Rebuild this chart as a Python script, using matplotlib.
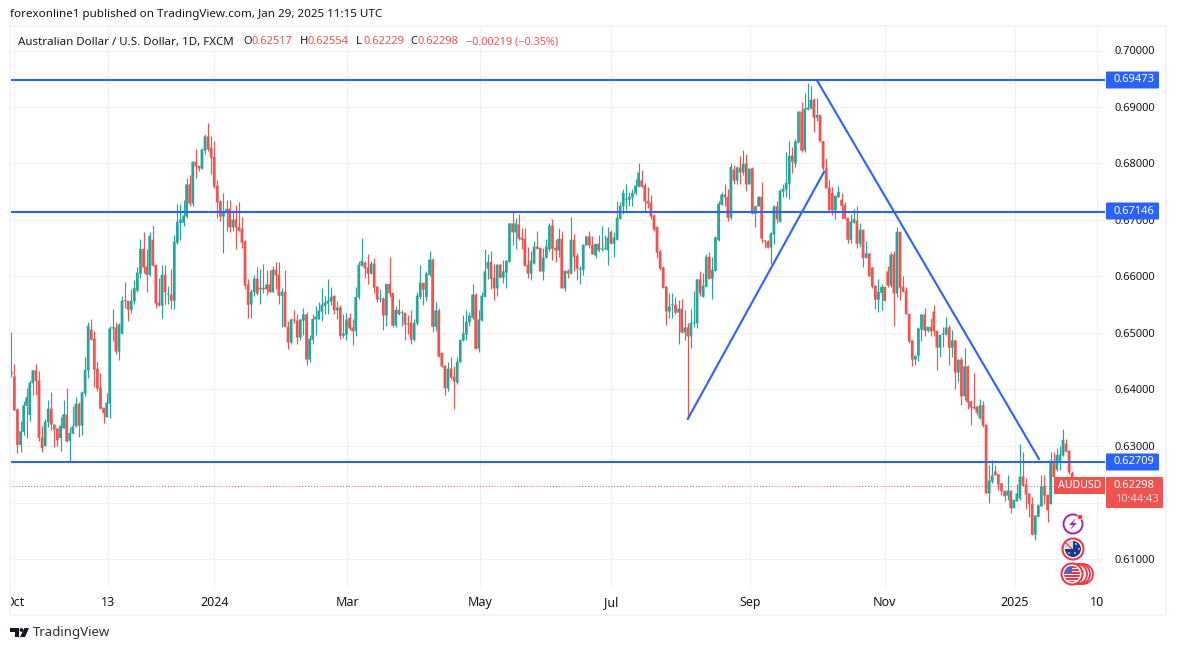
import numpy as np
import matplotlib
matplotlib.use("Agg")
import matplotlib.pyplot as plt
from matplotlib.patches import Circle, Rectangle, Polygon, FancyBboxPatch, Wedge
from matplotlib.transforms import Bbox

plt.rcParams['font.family'] = ['Noto Sans', 'DejaVu Sans']

# AUDUSD daily candles, in 1/10000 of a dollar
opens = [
    6427,6423,6365,6302,6325,6371,6355,6411,6434,6416,6315,6300,6342,6366,6338,6331,6314,6331,6356,6309,
    6322,6335,6375,6336,6393,6434,6506,6490,6437,6404,6368,6351,6375,6508,6510,6467,6499,6557,6557,6541,
    6556,6575,6605,6649,6618,6603,6665,6621,6554,6549,6603,6568,6568,6557,6660,6695,6695,6706,6763,6729,
    6803,6796,6791,6823,6848,6828,6812,6761,6733,6706,6715,6720,6687,6701,6688,6685,6662,6586,6550,6572,
    6596,6577,6580,6577,6586,6572,6612,6603,6566,6573,6511,6483,6524,6522,6492,6522,6533,6453,6488,6524,
    6524,6538,6548,6552,6556,6566,6540,6545,6495,6497,6527,6510,6503,6563,6619,6625,6616,6605,6623,6582,
    6560,6561,6531,6587,6571,6513,6541,6535,6536,6517,6518,6488,6517,6564,6589,6564,6603,6630,6511,6540,
    6465,6442,6402,6437,6423,6412,6448,6487,6497,6519,6527,6568,6472,6522,6564,6614,6626,6598,6579,6621,
    6598,6607,6626,6694,6678,6692,6669,6667,6621,6605,6623,6653,6651,6609,6633,6648,6690,6651,6646,6667,
    6579,6610,6605,6665,6637,6612,6612,6655,6671,6656,6637,6658,6648,6648,6646,6679,6658,6665,6702,6724,
    6736,6736,6740,6747,6759,6770,6761,6734,6731,6708,6688,6644,6616,6582,6538,6549,6550,6536,6543,6501,
    6510,6494,6517,6517,6595,6564,6582,6635,6596,6610,6664,6727,6745,6741,6704,6789,6770,6793,6784,6800,
    6763,6791,6711,6724,6741,6664,6662,6651,6674,6724,6697,6750,6754,6764,6814,6800,6837,6892,6823,6895,
    6897,6913,6881,6886,6840,6791,6757,6748,6717,6740,6736,6727,6704,6665,6695,6699,6658,6683,6633,6641,
    6616,6584,6559,6571,6582,6609,6584,6639,6570,6679,6582,6575,6534,6487,6453,6460,6506,6533,6504,6511,
    6538,6504,6474,6497,6497,6510,6474,6487,6430,6453,6388,6441,6379,6369,6370,6349,6372,6338,6216,6237,
    6255,6250,6234,6221,6212,6221,6190,6202,6207,6246,6232,6216,6197,6143,6175,6193,6228,6214,6197,6274,
    6258,6270,6283,6304,6292,6252]
highs = [
    6502,6446,6368,6344,6379,6402,6416,6434,6446,6432,6336,6347,6381,6395,6338,6331,6351,6381,6402,6333,
    6370,6386,6377,6398,6457,6520,6524,6503,6451,6430,6368,6393,6513,6543,6519,6517,6566,6591,6557,6577,
    6593,6616,6667,6678,6649,6678,6692,6621,6598,6621,6621,6584,6614,6674,6729,6729,6736,6775,6780,6805,
    6826,6796,6828,6853,6872,6848,6840,6771,6736,6748,6736,6736,6718,6727,6731,6706,6664,6596,6577,6603,
    6616,6614,6623,6611,6611,6618,6626,6625,6580,6612,6522,6526,6541,6533,6524,6545,6538,6497,6533,6547,
    6554,6580,6566,6596,6582,6568,6556,6550,6533,6536,6536,6524,6582,6628,6669,6628,6640,6628,6633,6584,
    6577,6564,6587,6635,6571,6548,6561,6541,6536,6531,6540,6525,6572,6621,6589,6610,6646,6632,6554,6545,
    6465,6444,6448,6458,6441,6457,6488,6531,6540,6538,6587,6570,6541,6573,6649,6639,6646,6623,6623,6623,
    6630,6630,6695,6715,6704,6711,6686,6686,6653,6646,6662,6681,6651,6651,6667,6695,6701,6667,6685,6681,
    6612,6614,6706,6676,6642,6619,6658,6671,6681,6672,6658,6674,6690,6674,6687,6683,6678,6734,6732,6755,
    6763,6750,6754,6773,6800,6789,6766,6759,6745,6710,6688,6648,6618,6584,6570,6570,6564,6559,6561,6541,
    6518,6543,6575,6595,6609,6607,6639,6644,6635,6672,6734,6750,6763,6754,6800,6798,6796,6814,6824,6817,
    6791,6793,6725,6743,6768,6664,6664,6678,6727,6733,6755,6764,6821,6840,6830,6844,6893,6909,6925,6943,
    6938,6916,6916,6886,6840,6810,6770,6759,6743,6761,6748,6731,6704,6711,6720,6724,6694,6683,6662,6641,
    6616,6584,6596,6587,6582,6619,6644,6646,6688,6681,6600,6582,6534,6487,6460,6511,6534,6545,6511,6527,
    6550,6504,6497,6510,6529,6515,6506,6487,6453,6457,6473,6444,6379,6430,6370,6384,6379,6338,6267,6276,
    6266,6250,6234,6221,6248,6221,6205,6232,6303,6289,6243,6216,6209,6177,6197,6248,6248,6214,6289,6290,
    6297,6300,6330,6312,6292,6255]
lows = [
    6422,6363,6287,6289,6320,6314,6344,6391,6390,6309,6289,6300,6333,6329,6298,6300,6291,6331,6307,6272,
    6322,6333,6316,6320,6388,6421,6487,6405,6398,6365,6340,6351,6349,6485,6462,6453,6499,6545,6522,6536,
    6552,6572,6598,6607,6572,6600,6619,6545,6547,6527,6552,6552,6542,6543,6657,6664,6690,6703,6725,6724,
    6775,6787,6791,6817,6823,6782,6757,6703,6698,6642,6680,6678,6680,6648,6680,6651,6577,6526,6527,6566,
    6568,6552,6570,6568,6572,6572,6577,6552,6510,6511,6471,6480,6517,6481,6488,6497,6444,6448,6480,6497,
    6524,6522,6534,6534,6550,6533,6525,6490,6492,6488,6506,6478,6494,6561,6619,6598,6586,6605,6571,6554,
    6554,6506,6513,6563,6511,6511,6531,6513,6487,6499,6481,6485,6515,6561,6550,6557,6600,6501,6503,6458,
    6439,6391,6398,6418,6365,6409,6448,6485,6487,6513,6525,6472,6467,6522,6563,6596,6577,6559,6566,6598,
    6589,6580,6625,6655,6649,6665,6648,6619,6598,6593,6623,6648,6609,6593,6632,6646,6630,6626,6635,6579,
    6575,6598,6605,6610,6593,6586,6602,6655,6651,6639,6633,6644,6646,6648,6621,6658,6635,6664,6702,6710,
    6718,6725,6724,6745,6759,6759,6715,6722,6701,6681,6633,6612,6579,6515,6526,6526,6533,6481,6500,6487,
    6349,6474,6510,6508,6566,6564,6582,6596,6561,6610,6662,6727,6725,6699,6701,6763,6764,6764,6780,6752,
    6763,6710,6687,6724,6660,6651,6651,6623,6658,6694,6697,6741,6741,6738,6784,6794,6837,6821,6821,6895,
    6897,6856,6876,6839,6789,6756,6717,6708,6701,6740,6702,6701,6660,6660,6695,6651,6653,6616,6633,6600,
    6580,6543,6538,6540,6556,6582,6582,6513,6564,6559,6573,6533,6483,6442,6444,6450,6485,6495,6501,6495,
    6494,6435,6458,6476,6497,6444,6457,6400,6414,6373,6381,6365,6338,6365,6354,6347,6333,6216,6200,6235,
    6248,6223,6214,6202,6204,6181,6190,6202,6205,6230,6188,6174,6143,6133,6175,6193,6197,6165,6197,6230,
    6255,6258,6282,6290,6250,6223]
closes = [
    6432,6363,6302,6326,6372,6386,6412,6434,6415,6314,6296,6343,6366,6338,6329,6310,6336,6356,6308,6323,
    6335,6375,6336,6395,6435,6513,6488,6435,6402,6366,6358,6377,6508,6510,6467,6515,6557,6556,6541,6557,
    6580,6607,6649,6616,6603,6672,6619,6552,6549,6603,6572,6569,6557,6662,6697,6701,6708,6763,6729,6803,
    6795,6791,6825,6848,6825,6810,6759,6731,6706,6713,6720,6687,6701,6687,6681,6660,6584,6550,6573,6596,
    6570,6580,6577,6586,6572,6612,6602,6566,6573,6511,6483,6524,6522,6492,6524,6533,6453,6490,6525,6529,
    6540,6550,6554,6557,6564,6540,6545,6495,6499,6524,6508,6503,6564,6621,6628,6614,6605,6623,6580,6559,
    6561,6531,6587,6570,6513,6541,6533,6536,6515,6515,6488,6518,6566,6589,6577,6605,6630,6511,6540,6458,
    6441,6402,6437,6421,6414,6449,6488,6499,6520,6531,6568,6472,6524,6566,6609,6626,6596,6579,6621,6598,
    6609,6628,6694,6678,6694,6667,6665,6619,6605,6628,6653,6649,6609,6633,6653,6690,6649,6646,6667,6579,
    6610,6605,6665,6635,6614,6614,6656,6671,6655,6639,6658,6646,6649,6649,6669,6658,6669,6704,6725,6748,
    6738,6741,6748,6761,6784,6759,6733,6729,6706,6683,6642,6614,6580,6538,6547,6550,6536,6543,6501,6510,
    6494,6518,6518,6595,6570,6584,6635,6596,6612,6669,6729,6745,6740,6704,6794,6770,6793,6784,6800,6763,
    6791,6711,6725,6741,6667,6662,6651,6676,6724,6701,6752,6755,6766,6814,6803,6839,6892,6823,6897,6899,
    6913,6881,6886,6839,6791,6756,6717,6717,6743,6750,6725,6702,6665,6697,6702,6658,6683,6633,6641,6600,
    6582,6559,6573,6582,6557,6584,6639,6570,6679,6580,6573,6533,6485,6453,6460,6508,6533,6504,6511,6503,
    6503,6474,6497,6499,6510,6474,6487,6430,6453,6388,6441,6377,6368,6367,6359,6372,6336,6216,6239,6248,
    6248,6232,6220,6211,6221,6190,6205,6216,6246,6230,6214,6197,6143,6177,6195,6228,6212,6186,6274,6245,
    6284,6285,6311,6290,6253,6230]

# levels and trend lines drawn on the chart
levels = [0.69473, 0.67146, 0.62709]
last_price = 0.62298
trend_up_x = [220, 264.3]
trend_up_y = [0.6348, 0.6785]
trend_down_x = [262, 334.2]
trend_down_y = [0.69473, 0.6277]

price_ticks = [0.61, 0.62, 0.63, 0.64, 0.65, 0.66, 0.67, 0.68, 0.69, 0.70]
date_ticks = [0.9, 31.3, 66, 109.3, 152.4, 195, 240.2, 284, 326.3, 353.2]
date_labels = ['Oct', '13', '2024', 'Mar', 'May', 'Jul', 'Sep', 'Nov', '2025', '10']

GREEN = '#26a69a'
RED = '#ef5350'
BLUE = '#2962ff'
GRID = '#f0f1f3'
INK = '#131722'

W, H = 1177, 650
fig = plt.figure(figsize=(W / 100, H / 100), dpi=100, facecolor='white')

# pane in pixels, scales taken from the gridlines and the first/last candle
left, right, top, bottom = 10, 1105, 26, 589
ax = fig.add_axes([left / W, 1 - bottom / H, (right - left) / W, (bottom - top) / H])
bar_px = 3.075
first_px = 11.3
ax.set_xlim((left - first_px) / bar_px, (right - first_px) / bar_px)
ax.set_ylim(0.70 - (bottom - 50.5) / 5650, 0.70 + (50.5 - top) / 5650)

o = np.array(opens) / 1e4
h = np.array(highs) / 1e4
l = np.array(lows) / 1e4
c = np.array(closes) / 1e4
x = np.arange(len(o))
colors = [GREEN if cc >= oo else RED for oo, cc in zip(o, c)]

ax.vlines(x, l, h, colors=colors, lw=0.85, zorder=2)
body = np.maximum(np.abs(c - o), 0.00018)
bars = ax.bar(x, body, bottom=np.minimum(o, c), width=0.88, color=colors, lw=0, zorder=3)
# snapping rounds the bodies down to 2px in places, which thins the candles out
for b in bars:
    b.set_snap(False)

ax.grid(True, color=GRID, lw=0.8, zorder=0)
ax.set_axisbelow(True)
for s in ax.spines.values():
    s.set_visible(False)

for lev in levels:
    ax.axhline(lev, color=BLUE, lw=1.5, zorder=4)
ax.plot(trend_up_x, trend_up_y, color=BLUE, lw=1.5, zorder=4)
ax.plot(trend_down_x, trend_down_y, color=BLUE, lw=1.5, zorder=4)
ax.axhline(last_price, color=RED, lw=0.7, ls=(0, (1, 2)), zorder=1)

ax.yaxis.tick_right()
ax.set_yticks(price_ticks)
# 0.62000 sits fully behind the red price tag in the picture
ax.set_yticklabels(['' if p == 0.62 else f'{p:.5f}' for p in price_ticks], fontsize=8, color=INK)
ax.tick_params(axis='y', length=0, pad=6.5)
ax.set_xticks(date_ticks)
ax.set_xticklabels(date_labels, fontsize=9, color=INK)
ax.tick_params(axis='x', length=0, pad=5)
for lab in ax.get_xticklabels():
    if lab.get_text() in ('2024', '2025'):
        lab.set_fontweight('bold')
    if lab.get_text() == 'Oct':
        lab.set_clip_box(Bbox([[9, 0], [W, H]]))
        lab.set_clip_on(True)

# overlay in pixel coordinates for the TradingView furniture
ov = fig.add_axes([0, 0, 1, 1], facecolor='none')
ov.set_xlim(0, W)
ov.set_ylim(H, 0)
ov.axis('off')

ov.add_patch(Rectangle((10, 26), 1156, 589, fill=False, ec='#f0f3fa', lw=1.5))

ov.text(10, 15, 'forexonline1 published on TradingView.com, Jan 29, 2025 11:15 UTC',
        fontsize=8.4, color=INK, va='center')
ov.text(18, 42, 'Australian Dollar / U.S. Dollar, 1D, FXCM', fontsize=8.3, color=INK, va='center')
for lx, vx, name, val in [(243, 252, 'O', '0.62517'), (300, 308, 'H', '0.62554'),
                          (356, 363, 'L', '0.62229'), (410, 418, 'C', '0.62298')]:
    ov.text(lx, 42, name, fontsize=8, color=INK, va='center')
    ov.text(vx, 42, val, fontsize=8, color=RED, va='center')
ov.text(466, 42, '\u22120.00219 (\u22120.35%)', fontsize=7.8, color=RED, va='center')


def price_tag(y0, y1, x0, x1, color):
    ov.add_patch(FancyBboxPatch((x0 + 1, y0 + 1), x1 - x0 - 2, y1 - y0 - 2,
                                boxstyle='round,pad=1', fc=color, ec='none', zorder=6))


for lev, yc in zip(levels, [80, 211, 462]):
    price_tag(yc - 8.5, yc + 8.5, 1106, 1159, BLUE)
    ov.text(1114, yc, f'{lev:.5f}', fontsize=8, color='white', va='center', zorder=7)

ov.add_patch(Rectangle((1054, 477), 51, 17, fc=RED, ec='none', zorder=6))
ov.text(1058, 485.5, 'AUDUSD', fontsize=7.6, color='white', va='center', zorder=7)
price_tag(477, 508, 1106, 1163, RED)
ov.text(1114, 485.5, '0.62298', fontsize=8, color='white', va='center', zorder=7)
ov.text(1115, 499.5, '10:44:43', fontsize=8, color='white', alpha=0.75, va='center', zorder=7)

# event icons under the last candle
ov.add_patch(Circle((1073, 524), 9.5, fc='white', ec='#9c27b0', lw=1.4, zorder=6))
ov.add_patch(Polygon([(1076, 518), (1069, 525), (1073, 525), (1070, 530), (1077, 523), (1073, 523)],
                     fc='#9c27b0', ec='none', zorder=7))
ov.add_patch(Circle((1080, 517), 2.6, fc='#f23645', ec='white', lw=0.5, zorder=7))

ov.add_patch(Circle((1073, 549), 10.5, fc='white', ec='#f23645', lw=1.5, zorder=6))
ov.add_patch(Circle((1073, 549), 8, fc='#1a3a8f', ec='none', zorder=7))
ov.add_patch(Wedge((1073, 549), 8, 180, 270, fc='#d9dde6', ec='none', zorder=7))
ov.plot([1066, 1072], [543, 549], color='#f23645', lw=0.8, zorder=8)
for sx, sy in [(1076, 544), (1079, 549), (1075, 553), (1069, 553)]:
    ov.add_patch(Circle((sx, sy), 0.8, fc='white', ec='none', zorder=8))

for cx in [1083, 1080, 1077]:
    ov.add_patch(Circle((cx, 574), 10, fc='white', ec='#f23645', lw=1.3, zorder=6))
ov.add_patch(Circle((1072, 574), 10.5, fc='white', ec='#f23645', lw=1.5, zorder=6))
flag = Circle((1072, 574), 8, transform=ov.transData)
for sy in range(566, 582, 3):
    st = ov.add_patch(Rectangle((1064, sy), 16, 1.5, fc='#f23645', ec='none', zorder=7))
    st.set_clip_path(flag)
canton = ov.add_patch(Rectangle((1064, 566), 8, 7, fc='#2f6fd6', ec='none', zorder=8))
canton.set_clip_path(flag)

# TradingView logo
ov.add_patch(Polygon([(10, 628), (19, 628), (19, 637), (15, 637), (15, 632), (10, 632)], fc=INK, ec='none'))
ov.add_patch(Circle((21.5, 630), 1.9, fc=INK, ec='none'))
ov.add_patch(Polygon([(24.5, 628), (29, 628), (25, 637), (20, 637)], fc=INK, ec='none'))
ov.text(33, 632.5, 'TradingView', fontsize=9.5, color='#2a2e39', va='center')

fig.savefig('out.png', dpi=100, facecolor='white')
